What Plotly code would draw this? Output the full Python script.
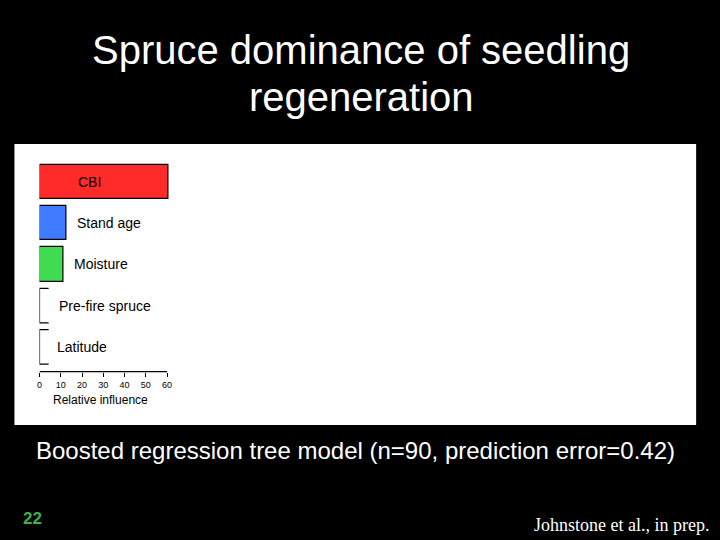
import plotly.graph_objects as go

# relative influence of predictors (boosted regression tree)
predictors = ['CBI', 'Stand age', 'Moisture', 'Pre-fire spruce', 'Latitude']
influence = [60.8, 12.9, 11.4, 4.3, 4.3]
colors = ['#ff2a2a', '#3f7cff', '#3fdc52', 'white', 'white']
tick_vals = [0, 10, 20, 30, 40, 50, 60]

W, H = 720, 540
def px(x): return x / W
def py(y): return 1 - y / H

n = len(predictors)
ypos = [n - 1 - i for i in range(n)]
bw = 0.835
font = 'Liberation Sans, Arial'

fig = go.Figure()

# coloured bars
fig.add_trace(go.Bar(
    x=[v for v, c in zip(influence, colors) if c != 'white'],
    y=[p for p, c in zip(ypos, colors) if c != 'white'],
    orientation='h', width=bw,
    marker=dict(color=[c for c in colors if c != 'white'], line=dict(color='black', width=1.2)),
    hoverinfo='skip', showlegend=False,
))

# tiny bars drawn as open brackets like the original figure
for v, p, c in zip(influence, ypos, colors):
    if c == 'white':
        fig.add_trace(go.Scatter(
            x=[v, 0, 0, v], y=[p + bw / 2, p + bw / 2, p - bw / 2, p - bw / 2],
            mode='lines', line=dict(color='black', width=1.2),
            hoverinfo='skip', showlegend=False,
        ))

# labels next to bars
label_x = [17.0, 16.6, 15.1, 8.1, 7.4]
for name, p, lx in zip(predictors, ypos, label_x):
    fig.add_annotation(x=lx, y=p, text=name, showarrow=False, xanchor='left',
                       font=dict(family=font, size=14, color='black'))

# x axis line from 0 to 60
fig.add_shape(type='line', xref='x', yref='paper', x0=0, x1=60,
              y0=py(371.7), y1=py(371.7), line=dict(color='black', width=1.2))

# white panel behind the chart
fig.add_shape(type='rect', xref='paper', yref='paper', layer='below',
              x0=px(11.5), x1=px(697), y0=py(425), y1=py(144),
              fillcolor='white', line=dict(width=0))

x0p, x60p = 36.7, 165.0
xmax = 62
x_right = x0p + (x60p - x0p) / 60 * xmax

fig.update_layout(
    width=W, height=H,
    margin=dict(l=0, r=0, t=0, b=0),
    paper_bgcolor='black', plot_bgcolor='rgba(0,0,0,0)',
    xaxis=dict(domain=[px(x0p), px(x_right)], range=[0, xmax],
               tickvals=tick_vals, ticks='outside', ticklen=4, tickwidth=1,
               tickcolor='black', showline=False, showgrid=False, zeroline=False,
               tickfont=dict(family=font, size=9, color='black')),
    yaxis=dict(domain=[py(371.7), py(160)], range=[-0.6, 4.53],
               showticklabels=False, showgrid=False, zeroline=False, showline=False, ticks=''),
    bargap=0,
)

fig.add_annotation(xref='paper', yref='paper', x=px(98), y=py(400), text='Relative influence',
                   showarrow=False, xanchor='center', yanchor='middle',
                   font=dict(family=font, size=12, color='black'))
fig.add_annotation(xref='paper', yref='paper', x=0.5, y=py(50), text='Spruce dominance of seedling',
                   showarrow=False, xanchor='center', yanchor='middle',
                   font=dict(family=font, size=40, color='white'))
fig.add_annotation(xref='paper', yref='paper', x=px(361), y=py(97), text='regeneration',
                   showarrow=False, xanchor='center', yanchor='middle',
                   font=dict(family=font, size=40, color='white'))
fig.add_annotation(xref='paper', yref='paper', x=px(354), y=py(450),
                   text='Boosted regression tree model (n=90, prediction error=0.42)',
                   showarrow=False, xanchor='center', yanchor='middle',
                   font=dict(family=font, size=24, color='white'))
fig.add_annotation(xref='paper', yref='paper', x=px(30), y=py(518), text='<b>22</b>',
                   showarrow=False, xanchor='center', yanchor='middle',
                   font=dict(family=font, size=17, color='#3fb24a'))
fig.add_annotation(xref='paper', yref='paper', x=px(712), y=py(525), text='Johnstone et al., in prep.',
                   showarrow=False, xanchor='right', yanchor='middle',
                   font=dict(family='Liberation Serif, Times New Roman', size=18, color='white'))

fig.write_html("out.html", config={'displayModeBar': False},
               post_script="document.body.style.margin='0';")
